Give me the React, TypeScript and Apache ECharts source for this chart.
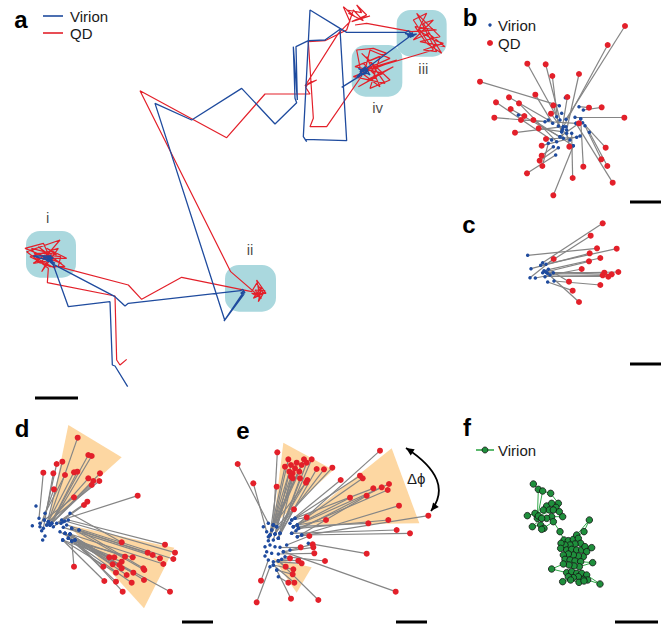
import React, { useEffect, useRef } from "react";
import * as echarts from "echarts";

type P = [number, number];

// ---------- Panel a (units: 0..1380 x 0..1200, y downward) ----------
const virionTrackA: P[] = [
  [383, 1160], [345, 1098], [337, 1095], [330, 905], [205, 920], [160, 795],
  [140, 770], [155, 780], [135, 778], [100, 768], [150, 768], [160, 775], [130, 772], [145, 785], [152, 772],
  [138, 782], [148, 776], [158, 783], [142, 768], [150, 780], [165, 790], [140, 778], [153, 766], [147, 783],
  [155, 790], [345, 890], [375, 918], [385, 910], [722, 872],
  [728, 868], [735, 878], [722, 880], [732, 872], [726, 876],
  [732, 882], [672, 963], [728, 880], [674, 960], [465, 310], [575, 360], [725, 265], [825, 372], [890, 308],
  [885, 295], [880, 140], [892, 300], [888, 140], [925, 122], [975, 120], [1020, 88], [1040, 422], [915, 418],
  [920, 425], [910, 410], [930, 30], [1020, 85], [1040, 97], [1218, 97],
  [1225, 92], [1240, 110], [1215, 100], [1245, 104], [1230, 112], [1250, 102], [1222, 108], [1238, 98], [1235, 105],
  [1090, 212],
  [1075, 205], [1100, 220], [1085, 225], [1105, 208], [1080, 215], [1095, 200], [1110, 225], [1088, 212], [1070, 230], [1098, 218],
  [1082, 222], [1092, 205], [1102, 214],
  [1025, 262],
];

const qdTrackA: P[] = [
  [380, 1078], [360, 1095], [350, 1080], [345, 888], [142, 848], [145, 805],
  [80, 755], [180, 720], [120, 790], [95, 745], [170, 765], [140, 745], [200, 775], [110, 775], [165, 805], [130, 730],
  [75, 745], [185, 790], [105, 760], [155, 760], [125, 815], [175, 745], [90, 770], [150, 800], [195, 800], [115, 740],
  [160, 780], [100, 790], [135, 765], [182, 770],
  [175, 800], [385, 855], [425, 898], [545, 832], [755, 875],
  [770, 850], [790, 880], [760, 895], [785, 860], [775, 905], [795, 872], [765, 870], [780, 890], [770, 840], [798, 880],
  [755, 880], [785, 895],
  [692, 815], [420, 272], [680, 413], [795, 282], [930, 282], [917, 262], [925, 250], [950, 240], [915, 258], [1015, 100], [1050, 65],
  [1030, 20], [1065, 50], [1040, 30], [1085, 38], [1070, 15], [1100, 45], [1055, 65], [1110, 48], [1075, 55], [1045, 40], [1090, 62], [1060, 30],
  [1040, 90], [975, 122], [925, 125], [940, 355], [930, 380], [980, 380], [1085, 228],
  [1070, 150], [1120, 145], [1160, 160], [1090, 190], [1130, 230], [1075, 260], [1180, 200], [1100, 240], [1150, 220], [1065, 200],
  [1140, 170], [1110, 265], [1170, 240], [1085, 160], [1125, 200], [1190, 180], [1060, 230], [1155, 250], [1100, 170], [1140, 260],
  [1080, 215], [1170, 175], [1110, 150], [1095, 210],
  [1150, 195], [1300, 150],
  [1240, 60], [1280, 40], [1255, 90], [1300, 120], [1330, 130], [1270, 150], [1310, 155], [1250, 40], [1290, 80], [1320, 110],
  [1260, 125], [1335, 140], [1285, 100], [1240, 120], [1300, 60], [1270, 70], [1325, 160], [1280, 130], [1245, 80], [1310, 90],
  [1235, 95], [1100, 70], [1065, 75],
];

const clusterBoxesA: [number, number, number, number][] = [
  [78, 693, 228, 833], [675, 795, 828, 935], [1190, 30, 1340, 170], [1055, 135, 1207, 290],
];
const clusterNamesA = ["i", "ii", "iii", "iv"];
const clusterLabelPosA: P[] = [[143, 652], [750, 748], [1270, 205], [1133, 323]];

// ---------- Panel b (0..621 x 0..630) ----------
const qdB: P[] = [
  [495, 78], [443, 135], [202, 191], [257, 193], [277, 228], [357, 222], [60, 245], [226, 284], [147, 292], [108, 307],
  [177, 310], [322, 291], [152, 327], [280, 316], [387, 323], [425, 322], [103, 353], [273, 341], [493, 353], [193, 348],
  [183, 360], [220, 360], [236, 385], [165, 398], [357, 370], [258, 417], [245, 437], [328, 440], [437, 443], [245, 467],
  [424, 478], [239, 482], [247, 498], [370, 500], [442, 498], [201, 520], [338, 534], [458, 548], [280, 586],
];
const virionB: P[] = [
  [318, 358], [310, 380], [290, 350], [300, 360], [295, 378], [320, 390], [298, 317], [278, 370], [265, 360], [275, 420],
  [290, 425], [305, 395], [300, 410], [310, 415], [357, 320], [370, 330], [255, 365], [330, 420], [345, 352], [175, 345],
  [348, 370], [340, 437], [305, 395], [310, 380], [300, 410], [350, 412], [360, 408], [320, 400], [368, 368], [280, 440],
  [375, 377], [295, 443], [265, 430], [362, 356], [388, 397], [287, 465], [335, 400], [348, 370], [340, 437],
];
const virionExtraB: P[] = [[316, 293], [305, 340], [362, 356], [318, 380], [308, 388]];

// ---------- Panel c (0..621 x 0..510) ----------
const qdC: P[] = [
  [428, 40], [392, 77], [411, 115], [470, 116], [389, 130], [421, 144], [281, 147], [387, 154], [365, 177], [475, 186],
  [433, 188], [455, 193], [428, 196], [445, 200], [327, 215], [421, 225], [338, 242], [357, 276],
];
const virionC: P[] = [
  [248, 158], [258, 163], [203, 136], [242, 166], [213, 176], [252, 182], [210, 203], [258, 186], [226, 204], [262, 190],
  [248, 188], [280, 188], [270, 195], [255, 200], [265, 178], [282, 213], [263, 216], [258, 186],
];

// ---------- Panel d (0..690 x 0..651) ----------
const qdD: P[] = [
  [233, 83], [265, 135], [275, 138], [170, 162], [187, 155], [130, 188], [160, 190], [222, 187], [232, 185], [195, 195],
  [300, 190], [265, 205], [280, 213], [298, 213], [275, 225], [162, 238], [222, 262], [262, 275], [252, 285], [413, 257],
  [495, 404], [365, 397], [525, 428], [520, 447], [443, 428], [458, 435], [480, 445], [490, 462], [328, 442], [343, 442],
  [375, 440], [398, 442], [365, 455], [338, 463], [358, 465], [310, 470], [430, 475], [433, 480], [365, 475], [348, 488],
  [380, 495], [400, 488], [432, 510], [395, 518], [313, 513], [348, 515], [368, 545], [510, 545], [222, 470],
];
const virionD: P[] = [
  [145, 335], [150, 345], [155, 340], [133, 330], [140, 345], [117, 325], [130, 355], [145, 335], [150, 345], [135, 310],
  [155, 340], [140, 345], [150, 345], [145, 335], [155, 340], [120, 350], [133, 330], [170, 340], [160, 350], [185, 330],
  [205, 330], [210, 310], [195, 333], [200, 345], [215, 355], [237, 360], [190, 352], [210, 372], [195, 370], [205, 385],
  [225, 390], [215, 393], [188, 390], [180, 365], [210, 372], [205, 385], [237, 360], [215, 355], [195, 370], [188, 390],
  [225, 390], [215, 393], [210, 372], [205, 385], [188, 390], [195, 370], [210, 372], [225, 390], [215, 393],
];
const virionExtraD: P[] = [[108, 288], [97, 347], [125, 362], [135, 378], [128, 390], [183, 340], [190, 335], [120, 340]];
const wedgesD: number[][] = [
  [145, 340, 205, 45, 365, 142],
  [205, 345, 523, 413, 432, 595],
];

// ---------- Panel e (0..690 x 0..651) ----------
const qdE: P[] = [
  [172, 127], [480, 122], [53, 162], [205, 148], [230, 158], [252, 148], [275, 148], [195, 170], [213, 165], [225, 175],
  [245, 165], [260, 158], [290, 177], [312, 178], [337, 173], [208, 185], [218, 190], [238, 185], [213, 200], [218, 205],
  [240, 205], [262, 210], [258, 218], [100, 220], [170, 230], [362, 210], [420, 197], [428, 205], [507, 222], [503, 240],
  [485, 232], [460, 235], [440, 257], [390, 263], [537, 287], [222, 298], [260, 322], [318, 330], [445, 340], [505, 330],
  [625, 317], [530, 360], [570, 370], [268, 378], [242, 412], [278, 403], [280, 412], [283, 430], [440, 431], [210, 445],
  [235, 452], [245, 460], [315, 453], [197, 470], [220, 478], [218, 493], [205, 518], [223, 518], [123, 512], [527, 545],
  [110, 577], [213, 566], [295, 570],
];
const virionE: P[] = [
  [160, 345], [232, 345], [145, 340], [160, 345], [170, 350], [155, 360], [180, 370], [150, 375], [165, 372], [170, 350],
  [160, 345], [175, 385], [180, 370], [165, 372], [170, 350], [155, 360], [160, 390], [145, 392], [150, 375], [175, 385],
  [180, 370], [165, 372], [160, 345], [140, 365], [150, 375], [215, 330], [225, 325], [220, 350], [232, 345], [235, 355],
  [215, 370], [225, 325], [232, 380], [220, 350], [245, 375], [175, 385], [215, 330], [232, 345], [220, 350], [235, 355],
  [232, 380], [215, 370], [245, 375], [200, 405], [180, 412], [210, 420], [190, 425], [175, 432], [265, 400], [185, 448],
  [175, 452], [160, 455], [195, 440], [175, 452], [160, 465], [170, 480], [175, 500], [160, 465], [145, 450], [190, 425],
  [150, 470], [170, 480], [175, 452],
];
const virionExtraE: P[] = [
  [130, 350], [135, 410], [150, 405], [165, 410], [140, 425], [155, 430], [135, 438], [145, 380], [210, 340], [228, 362],
];
const wedgesE: number[][] = [
  [160, 345, 190, 98, 340, 180],
  [228, 345, 515, 115, 598, 340],
  [160, 445, 275, 472, 230, 548],
];

// ---------- Panel f (0..651 x 0..651) ----------
const virionTrackF: P[] = [
  [250, 222], [265, 238], [262, 325], [278, 243], [302, 250], [325, 280], [290, 288], [305, 280], [318, 292], [280, 300],
  [298, 300], [232, 317], [255, 310], [265, 318], [310, 300], [328, 305], [338, 320], [305, 320], [290, 325], [275, 325],
  [247, 350], [272, 345], [282, 355], [275, 358], [310, 335], [330, 365], [342, 390], [355, 392], [370, 388], [402, 365],
  [418, 330], [380, 375], [385, 385], [392, 400], [375, 402], [360, 405], [345, 405], [333, 400], [332, 415], [350, 420],
  [365, 418], [380, 420], [395, 420], [405, 410], [425, 413], [410, 425], [400, 440], [385, 438], [370, 435], [355, 432],
  [340, 435], [345, 448], [360, 450], [375, 453], [392, 455], [428, 458], [388, 470], [372, 468], [357, 465], [340, 462],
  [305, 477], [350, 488], [365, 485], [380, 490], [395, 490], [410, 495], [450, 522], [413, 510], [400, 508], [385, 500],
  [370, 503], [355, 500], [338, 515], [362, 510], [387, 517], [402, 513],
];

// ---------- styling ----------
const BLUE = "#1f4b9e";
const RED = "#e3202a";
const GREY = "#858585";
const CYAN = "#aad8de";
const ORANGE = "#fdd7a2";
const GREEN = "#1f8f3c";
const GREEN_LINE = "#33a84a";
const FONT = "'Liberation Sans', Arial, Helvetica, sans-serif";

const panelBoxes = [
  { left: 0, top: 0, width: 460, height: 400 },
  { left: 460, top: 0, width: 207, height: 210 },
  { left: 460, top: 210, width: 207, height: 170 },
  { left: 0, top: 410, width: 230, height: 217 },
  { left: 220, top: 410, width: 230, height: 217 },
  { left: 450, top: 410, width: 217, height: 217 },
];

function axisRef(i: number) {
  return { xAxisIndex: i, yAxisIndex: i };
}

function pairSeries(i: number, virion: P[], qd: P[], extra: P[]) {
  return [
    {
      type: "lines",
      coordinateSystem: "cartesian2d",
      ...axisRef(i),
      silent: true,
      z: 3,
      lineStyle: { color: GREY, width: 1.2, opacity: 1, curveness: 0 },
      data: qd.map((q, k) => ({ coords: [virion[k], q] })),
    },
    {
      type: "scatter",
      ...axisRef(i),
      silent: true,
      z: 4,
      symbolSize: 3.5,
      itemStyle: { color: BLUE, opacity: 1 },
      data: [...virion, ...extra],
    },
    {
      type: "scatter",
      ...axisRef(i),
      silent: true,
      z: 5,
      symbolSize: 6,
      itemStyle: { color: RED, opacity: 1 },
      data: qd,
    },
  ];
}

function wedgeSeries(i: number, wedges: number[][]) {
  return {
    type: "custom",
    ...axisRef(i),
    silent: true,
    z: 1,
    data: wedges,
    renderItem: (_p: any, api: any) => {
      const pts = [0, 1, 2].map((k) => api.coord([api.value(2 * k), api.value(2 * k + 1)]));
      return { type: "polygon", shape: { points: pts }, style: { fill: ORANGE } };
    },
  };
}

function arrowHead(tip: P, from: P, len = 8, half = 3.6) {
  const dx = tip[0] - from[0];
  const dy = tip[1] - from[1];
  const l = Math.hypot(dx, dy);
  const ux = dx / l, uy = dy / l;
  const bx = tip[0] - ux * len, by = tip[1] - uy * len;
  return [tip, [bx - uy * half, by + ux * half], [bx + uy * half, by - ux * half]];
}

export default function App() {
  const ref = useRef<HTMLDivElement>(null);
  useEffect(() => {
    if (!ref.current) return;
    const chart = echarts.init(ref.current, undefined, { renderer: "svg" });

    const grid = panelBoxes.map((b) => ({ ...b, containLabel: false }));
    const xAxis = panelBoxes.map((b, i) => ({
      type: "value", gridIndex: i, min: 0, max: b.width * 3, show: false,
    }));
    const yAxis = panelBoxes.map((b, i) => ({
      type: "value", gridIndex: i, min: 0, max: b.height * 3, inverse: true, show: false,
    }));

    const arcP0: P = [406, 448];
    const arcC: P = [455, 480];
    const arcP2: P = [431, 511];

    const panelLetter = (t: string, x: number, y: number) => ({
      type: "text", x, y,
      style: { text: t, font: `bold 24px ${FONT}`, fill: "#000", textAlign: "center", textVerticalAlign: "middle" },
    });
    const txt = (t: string, x: number, y: number, size = 15) => ({
      type: "text", x, y,
      style: { text: t, font: `${size}px ${FONT}`, fill: "#1a1a1a", textAlign: "left", textVerticalAlign: "middle" },
    });
    const bar = (x1: number, x2: number, y: number) => ({
      type: "rect", shape: { x: x1, y: y - 1.5, width: x2 - x1, height: 3 }, style: { fill: "#000" },
    });

    const series: any[] = [
      // panel a
      {
        type: "custom",
        ...axisRef(0),
        silent: true,
        z: 1,
        data: clusterBoxesA,
        renderItem: (_p: any, api: any) => {
          const a = api.coord([api.value(0), api.value(1)]);
          const b = api.coord([api.value(2), api.value(3)]);
          return {
            type: "rect",
            shape: { x: a[0], y: a[1], width: b[0] - a[0], height: b[1] - a[1], r: 14 },
            style: { fill: CYAN },
          };
        },
      },
      {
        type: "line", name: "QD", ...axisRef(0), data: qdTrackA, symbol: "none", silent: true, z: 3,
        lineStyle: { color: RED, width: 1.2 },
      },
      {
        type: "line", name: "Virion", ...axisRef(0), data: virionTrackA, symbol: "none", silent: true, z: 4,
        lineStyle: { color: BLUE, width: 1.3 },
      },
      {
        type: "scatter", ...axisRef(0), silent: true, z: 5, symbolSize: 1,
        itemStyle: { color: "rgba(0,0,0,0)" },
        label: { show: true, formatter: "{b}", position: "inside", fontSize: 15, color: "#1a1a1a", fontFamily: FONT },
        data: clusterNamesA.map((n, k) => ({ name: n, value: clusterLabelPosA[k] })),
      },
      // panel b, c
      ...pairSeries(1, virionB, qdB, virionExtraB),
      ...pairSeries(2, virionC, qdC, []),
      // panel d, e
      wedgeSeries(3, wedgesD),
      ...pairSeries(3, virionD, qdD, virionExtraD),
      wedgeSeries(4, wedgesE),
      ...pairSeries(4, virionE, qdE, virionExtraE),
      // panel f
      {
        type: "line", name: "Virion", ...axisRef(5), data: virionTrackF, silent: true, z: 4,
        symbol: "circle", symbolSize: 6.5, showSymbol: true,
        lineStyle: { color: GREEN_LINE, width: 1 },
        itemStyle: { color: GREEN, borderColor: "#111", borderWidth: 0.8 },
      },
    ];

    chart.setOption({
      animation: false,
      tooltip: { show: false },
      grid,
      xAxis,
      yAxis,
      series,
      graphic: [
        panelLetter("a", 21, 19),
        panelLetter("b", 470, 17),
        panelLetter("c", 469, 224),
        panelLetter("d", 22, 428),
        panelLetter("e", 243, 430),
        panelLetter("f", 467, 427),
        // legend a
        { type: "line", shape: { x1: 43, y1: 16, x2: 63, y2: 16 }, style: { stroke: BLUE, lineWidth: 1.6 } },
        txt("Virion", 70, 16),
        { type: "line", shape: { x1: 43, y1: 33, x2: 63, y2: 33 }, style: { stroke: RED, lineWidth: 1.6 } },
        txt("QD", 70, 33),
        // legend b
        { type: "circle", shape: { cx: 490, cy: 25, r: 1.7 }, style: { fill: BLUE } },
        txt("Virion", 498, 25),
        { type: "circle", shape: { cx: 490, cy: 43, r: 3 }, style: { fill: RED } },
        txt("QD", 498, 43),
        // legend f
        { type: "line", shape: { x1: 476, y1: 450, x2: 494, y2: 450 }, style: { stroke: GREEN_LINE, lineWidth: 1.6 } },
        { type: "circle", shape: { cx: 485, cy: 450, r: 3 }, style: { fill: GREEN, stroke: "#111", lineWidth: 0.8 } },
        txt("Virion", 498, 450),
        // scale bars
        bar(35, 78, 398),
        bar(630, 661, 202),
        bar(630, 661, 364),
        bar(182, 213, 622),
        bar(396, 427, 622),
        bar(615, 658, 622),
        // delta phi arrow
        {
          type: "bezierCurve",
          shape: { x1: arcP0[0], y1: arcP0[1], x2: arcP2[0], y2: arcP2[1], cpx1: arcC[0], cpy1: arcC[1] },
          style: { stroke: "#000", lineWidth: 1.8, fill: "none" },
        },
        { type: "polygon", shape: { points: arrowHead(arcP0, arcC) }, style: { fill: "#000" } },
        { type: "polygon", shape: { points: arrowHead(arcP2, arcC) }, style: { fill: "#000" } },
        txt("Δϕ", 407, 478, 15),
      ],
    });
    return () => chart.dispose();
  }, []);

  return (
    <div
      ref={ref}
      style={{ position: "absolute", left: 0, top: 0, width: 667, height: 627, background: "#fff" }}
    />
  );
}
